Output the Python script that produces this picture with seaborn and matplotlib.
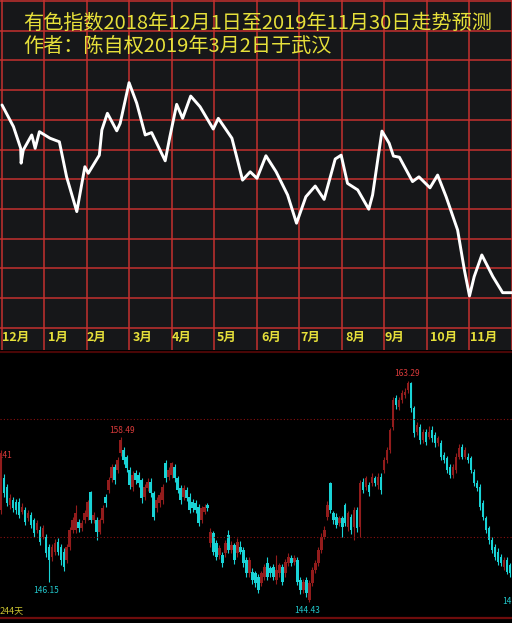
import numpy as np
import pandas as pd
import matplotlib
matplotlib.use('Agg')
import matplotlib.pyplot as plt
import seaborn as sns

# 上图：预测走势（横轴=月份序号，纵轴=网格格数）
pred_month = [0.00, 0.27, 0.44, 0.45, 0.50, 0.70, 0.78, 0.88, 1.13, 1.35,
              1.52, 1.76, 1.95, 2.03, 2.29, 2.35, 2.48, 2.70, 2.78, 2.99,
              3.17, 3.37, 3.52, 3.84, 3.95, 4.11, 4.25, 4.44, 4.66, 4.97,
              5.09, 5.41, 5.54, 5.66, 5.84, 6.00, 6.21, 6.45, 6.72, 6.93,
              7.15, 7.37, 7.58, 7.84, 7.98, 8.13, 8.37, 8.63, 8.72, 8.94,
              9.11, 9.21, 9.35, 9.66, 9.81, 10.07, 10.25, 10.45, 10.72, 10.88,
              11.00, 11.11, 11.29, 11.55, 11.78, 12.00]
pred_level = [7.50, 6.77, 6.04, 5.54, 5.98, 6.49, 6.04, 6.60, 6.38, 6.26,
              5.08, 3.91, 5.42, 5.20, 5.81, 6.66, 7.22, 6.63, 6.88, 8.25,
              7.56, 6.49, 6.57, 5.62, 6.43, 7.52, 7.05, 7.80, 7.44, 6.69,
              7.05, 6.38, 5.65, 4.97, 5.25, 5.03, 5.79, 5.25, 4.47, 3.52,
              4.41, 4.77, 4.32, 5.68, 5.81, 4.86, 4.64, 3.99, 4.47, 6.62,
              6.21, 5.78, 5.74, 4.92, 5.08, 4.71, 5.14, 4.41, 3.29, 1.94,
              1.07, 1.72, 2.45, 1.72, 1.18, 1.18]
month_labels = ['12月', '1月', '2月', '3月', '4月', '5月',
                '6月', '7月', '8月', '9月', '10月', '11月']
month_label_pos = [0.0, 1.08, 1.99, 3.06, 3.98, 5.04,
                   6.09, 7.01, 8.07, 8.99, 10.05, 11.01]
title_1 = '有色指数2018年12月1日至2019年11月30日走势预测'
title_2 = '作者：陈自权2019年3月2日于武汉'

# 下图：日K线
k_open = [152.27, 154.97, 154.26, 152.70, 153.12, 152.98, 152.98, 152.13, 152.27, 151.56,
          151.85, 151.42, 150.57, 150.57, 150.00, 150.00, 149.15, 148.30, 148.72, 149.57,
          149.15, 148.72, 148.01, 149.15, 150.57, 150.57, 151.28, 150.71, 151.42, 151.70,
          153.83, 151.42, 151.42, 150.43, 151.42, 153.40, 153.98, 154.97, 155.96, 155.68,
          157.10, 157.38, 156.82, 155.68, 154.26, 155.40, 155.25, 154.83, 153.40, 154.12,
          154.69, 153.69, 152.41, 152.84, 153.12, 156.25, 155.11, 155.25, 155.96, 154.97,
          154.12, 153.40, 153.98, 153.40, 152.98, 152.84, 152.56, 151.42, 152.13, 152.70,
          149.43, 150.28, 149.43, 148.44, 148.44, 148.58, 150.14, 148.86, 149.29, 148.58,
          149.15, 148.86, 148.01, 146.88, 147.02, 146.88, 146.59, 146.02, 146.59, 147.73,
          147.30, 147.44, 146.31, 146.88, 147.44, 146.88, 147.73, 148.15, 147.87, 148.01,
          146.31, 145.46, 146.31, 144.60, 146.02, 147.16, 147.73, 148.86, 150.00, 151.70,
          154.54, 151.99, 151.70, 151.14, 151.56, 152.70, 150.85, 151.70, 150.85, 152.27,
          150.85, 154.69, 154.26, 154.40, 154.54, 154.97, 154.40, 155.11, 155.68, 156.53,
          157.38, 159.37, 161.78, 161.08, 161.64, 162.07, 162.50, 163.06, 160.93, 158.95,
          159.37, 158.24, 158.95, 158.52, 159.09, 158.66, 157.95, 157.95, 156.96, 156.67,
          155.96, 155.25, 155.68, 156.82, 157.61, 156.82, 156.82, 156.67, 155.54, 154.54,
          154.26, 152.84, 151.56, 150.71, 149.72, 149.15, 148.72, 148.30, 147.44, 148.01,
          147.59]
k_close = [157.10, 153.69, 152.84, 153.27, 152.41, 152.27, 151.85, 152.56, 151.28, 151.99,
           150.99, 150.28, 151.14, 149.57, 150.71, 148.58, 148.01, 149.15, 149.43, 148.72,
           148.01, 147.44, 149.15, 150.57, 151.42, 151.99, 150.71, 151.14, 151.99, 152.98,
           151.42, 151.85, 150.43, 151.42, 152.41, 152.84, 154.83, 155.96, 154.83, 156.53,
           158.24, 156.53, 155.82, 154.40, 155.25, 154.83, 154.54, 153.27, 154.26, 154.69,
           153.69, 151.70, 153.12, 153.55, 154.26, 154.97, 155.68, 156.25, 154.97, 153.98,
           153.12, 154.12, 153.27, 152.27, 152.41, 152.27, 151.14, 152.41, 152.56, 152.41,
           150.43, 148.72, 148.30, 149.00, 147.73, 149.43, 148.86, 149.29, 148.01, 149.57,
           148.72, 147.73, 146.88, 148.01, 146.31, 146.02, 145.46, 146.88, 147.44, 146.59,
           146.88, 146.59, 147.16, 147.59, 146.17, 147.87, 148.30, 147.73, 148.15, 146.17,
           145.46, 146.17, 145.17, 146.02, 147.16, 147.73, 148.86, 150.00, 150.57, 152.70,
           152.27, 151.42, 150.99, 151.56, 150.85, 151.14, 151.99, 150.57, 152.27, 150.71,
           154.54, 153.98, 154.97, 153.83, 155.11, 154.54, 155.11, 153.98, 156.53, 157.38,
           159.09, 161.64, 161.22, 161.64, 162.21, 162.35, 163.06, 160.93, 158.80, 159.51,
           158.24, 158.95, 158.09, 158.95, 158.38, 157.95, 158.38, 156.82, 156.53, 155.68,
           155.25, 155.96, 156.82, 157.53, 156.82, 157.38, 156.53, 155.68, 154.54, 154.12,
           152.56, 151.70, 150.57, 149.72, 148.86, 148.30, 147.87, 147.73, 148.01, 147.02,
           146.88]
k_high = [157.41, 155.30, 154.50, 153.60, 153.40, 153.20, 153.30, 152.90, 152.50, 152.30,
          152.10, 151.60, 151.40, 150.90, 151.00, 150.20, 149.40, 149.40, 149.80, 149.90,
          149.40, 149.00, 149.40, 150.80, 151.70, 152.70, 151.50, 151.40, 152.30, 153.10,
          153.90, 152.10, 151.70, 151.60, 152.70, 153.60, 155.10, 156.20, 156.20, 156.80,
          158.49, 157.60, 157.00, 155.90, 155.60, 155.70, 155.50, 155.00, 154.50, 155.00,
          155.00, 153.90, 153.40, 153.80, 154.50, 156.50, 155.90, 156.40, 156.20, 155.20,
          154.40, 154.40, 154.20, 153.70, 153.20, 153.10, 152.80, 152.60, 152.80, 152.90,
          150.70, 150.50, 149.70, 149.30, 148.70, 149.70, 150.60, 149.60, 149.50, 149.90,
          149.60, 149.10, 148.30, 148.30, 147.30, 147.10, 146.80, 147.10, 147.70, 148.30,
          147.50, 147.70, 148.40, 147.80, 147.70, 148.10, 148.60, 148.40, 148.40, 148.30,
          146.60, 146.40, 146.60, 146.30, 147.40, 148.00, 149.10, 150.30, 150.90, 153.00,
          154.70, 152.20, 152.00, 151.80, 151.80, 152.90, 152.20, 151.90, 152.50, 152.50,
          154.80, 155.00, 155.20, 154.70, 155.40, 155.20, 155.40, 155.40, 156.80, 157.60,
          159.30, 161.90, 162.10, 161.90, 162.50, 162.70, 163.29, 163.20, 161.10, 159.80,
          159.60, 159.20, 159.20, 159.40, 159.40, 158.90, 158.60, 158.20, 157.20, 156.90,
          156.20, 156.20, 157.10, 157.90, 157.90, 157.60, 157.10, 156.90, 155.80, 154.80,
          154.50, 153.10, 151.80, 150.90, 150.00, 149.40, 149.00, 148.50, 148.30, 148.30,
          147.80]
k_low = [151.90, 153.40, 152.60, 152.40, 152.10, 151.90, 151.60, 151.90, 151.00, 151.30,
         150.70, 150.00, 150.30, 149.30, 149.80, 148.30, 146.15, 147.90, 148.40, 148.40,
         147.60, 147.10, 147.80, 148.90, 150.30, 150.30, 150.40, 150.50, 151.20, 151.40,
         151.20, 151.20, 149.70, 150.20, 151.20, 152.50, 153.70, 154.70, 154.50, 155.40,
         156.90, 156.20, 155.50, 154.10, 153.90, 154.50, 154.20, 152.90, 153.10, 153.90,
         153.40, 151.40, 152.10, 152.50, 152.80, 154.70, 154.80, 155.00, 154.70, 153.70,
         152.80, 153.10, 153.00, 152.00, 152.10, 152.00, 150.90, 151.20, 151.90, 152.20,
         149.10, 148.40, 148.00, 148.10, 147.40, 148.30, 148.60, 148.60, 147.70, 148.30,
         148.50, 147.40, 146.60, 146.60, 146.00, 145.70, 145.20, 145.80, 146.30, 146.30,
         146.60, 146.30, 146.00, 146.60, 145.90, 146.60, 147.50, 147.50, 147.60, 145.90,
         145.10, 145.20, 144.90, 144.43, 145.80, 146.90, 147.50, 148.60, 149.80, 151.40,
         152.00, 151.10, 150.70, 150.90, 150.00, 150.90, 150.50, 150.20, 149.70, 150.40,
         150.00, 153.70, 154.00, 153.50, 154.30, 154.30, 154.10, 153.60, 155.40, 156.30,
         157.10, 159.10, 160.90, 160.80, 161.40, 161.80, 162.20, 160.60, 158.50, 158.70,
         157.90, 158.00, 157.80, 158.30, 158.10, 157.60, 157.70, 156.50, 156.30, 155.40,
         155.00, 155.00, 155.40, 156.60, 156.60, 156.60, 156.30, 155.40, 154.30, 153.90,
         152.30, 151.40, 150.30, 149.40, 148.60, 148.00, 147.60, 147.50, 147.20, 146.80,
         146.60]

sns.set_theme(style='dark')
plt.rcParams['font.family'] = ['Noto Sans CJK SC', 'DejaVu Sans']

yellow = '#e6e03a'
fig = plt.figure(figsize=(5.12, 6.23), dpi=100)
fig.patch.set_facecolor('black')

# ---- 上图 ----
ax1 = fig.add_axes([0, 273 / 623, 1, 350 / 623])
ax1.set_facecolor('#161719')
df = pd.DataFrame({'month': pred_month, 'level': pred_level})
sns.lineplot(data=df, x='month', y='level', ax=ax1, color='white', lw=2.1, sort=False,
             solid_joinstyle='round', solid_capstyle='round')
ax1.set_xlim(-0.047, 12)
ax1.set_ylim(-0.75, 11.034)
ax1.set_xticks(range(13))
ax1.set_yticks(range(12))
ax1.set_axisbelow(True)
ax1.grid(True, color='#c4302e', lw=1.1)
ax1.tick_params(length=0, labelbottom=False, labelleft=False)
ax1.set_xlabel('')
ax1.set_ylabel('')
for s in ax1.spines.values():
    s.set_visible(False)

for pos, lab in zip(month_label_pos, month_labels):
    ax1.text(pos + 0.01, -0.34, lab, color=yellow, fontsize=9, fontweight='bold', va='center')

ax1.text(0.50, 10.23, title_1, color=yellow, fontsize=14.5, va='center')
ax1.text(0.50, 9.48, title_2, color=yellow, fontsize=14.5, va='center')

# ---- 下图 K线 ----
ax2 = fig.add_axes([0, 0, 1, 272 / 623])
ax2.set_facecolor('black')
o = np.array(k_open)
c = np.array(k_close)
x = np.arange(len(o))
cols = np.where(c >= o, '#931c1c', '#19d3d6')
ax2.vlines(x, k_low, k_high, colors=cols, lw=0.8)
ax2.bar(x, np.abs(c - o), bottom=np.minimum(o, c), width=0.85, color=cols, lw=0)
ax2.set_xlim(-0.3, 170.7)
ax2.set_ylim(142.65, 165.82)
ax2.axhline(150, color='#8a1010', ls=(0, (1, 2)), lw=0.8)
ax2.axhline(160, color='#8a1010', ls=(0, (1, 2)), lw=0.8)
ax2.axhline(143.07, color='#6e0c0c', lw=1.6)
ax2.axhline(165.75, color='#4a0606', lw=1.5)
ax2.grid(False)
ax2.set_xticks([])
ax2.set_yticks([])
for s in ax2.spines.values():
    s.set_visible(False)

red_lab = '#d83a3a'
cyan_lab = '#22c8cc'
# 左右两端的标注在原图中只露出一部分
ax2.text(-0.2, 156.96, '.41', ha='left', va='center', color=red_lab, fontsize=6)
ax2.text(40.5, 159.08, '158.49', ha='center', va='center', color=red_lab, fontsize=6)
ax2.text(15.2, 145.42, '146.15', ha='center', va='center', color=cyan_lab, fontsize=6)
ax2.text(102.2, 143.71, '144.43', ha='center', va='center', color=cyan_lab, fontsize=6)
ax2.text(135.6, 163.94, '163.29', ha='center', va='center', color=red_lab, fontsize=6)
ax2.text(170.6, 144.52, '14', ha='right', va='center', color=cyan_lab, fontsize=6)
ax2.text(-0.3, 143.7, '244天', ha='left', va='center', color='#c8c030', fontsize=6.5)

fig.savefig('out.png', dpi=100, facecolor='black')
